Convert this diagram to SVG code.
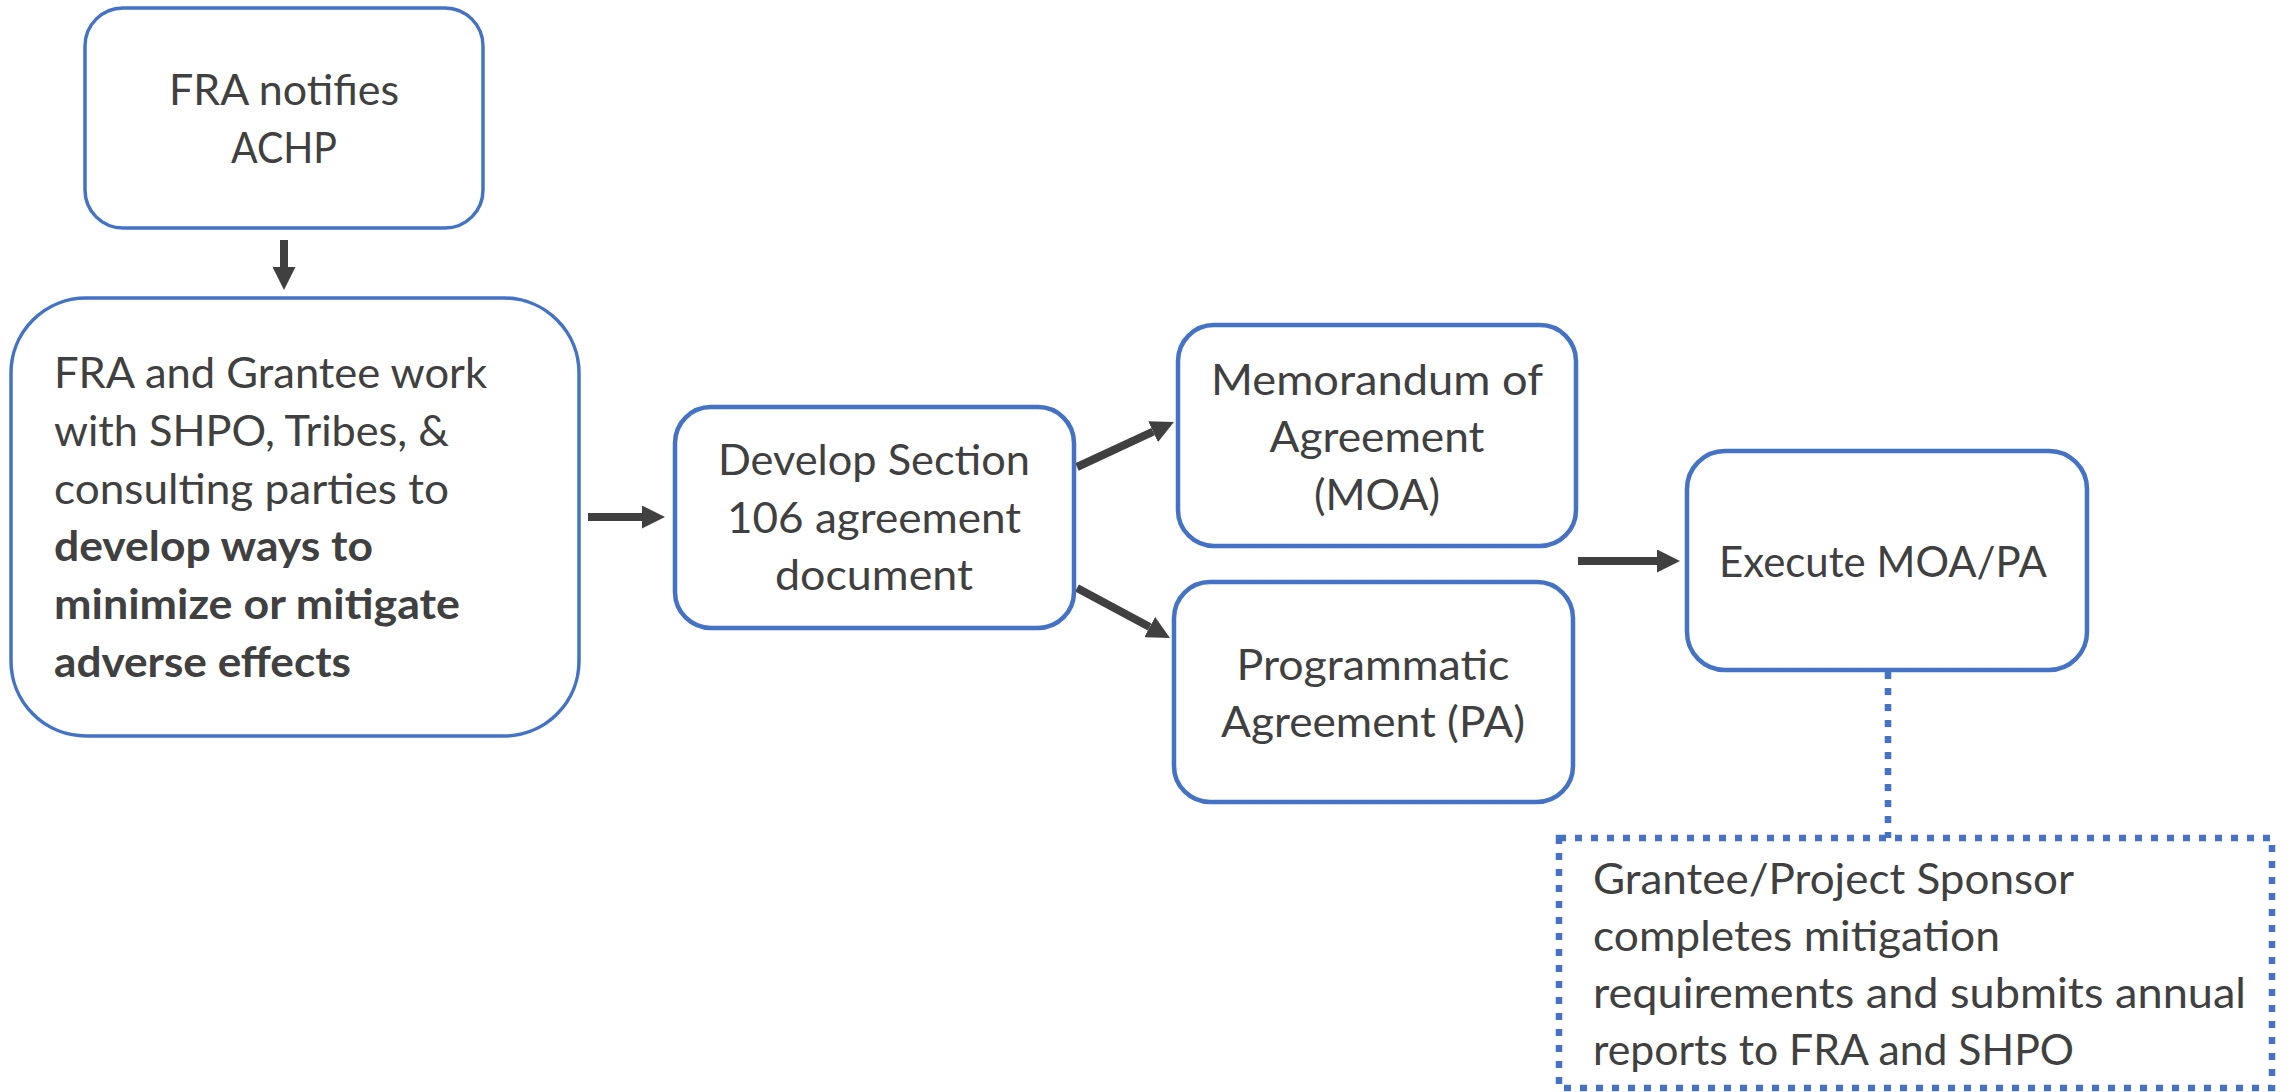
<svg xmlns="http://www.w3.org/2000/svg" width="2290" height="1092" viewBox="0 0 2290 1092">
<style>
.box{fill:#ffffff;stroke:#4472C4;stroke-width:4.5}
.thin{stroke-width:3.5}
.dotted{fill:#ffffff;stroke:#4472C4;stroke-width:6.5;stroke-dasharray:7 9}
.t{font-family:Lato,"Open Sans","Liberation Sans",sans-serif;font-size:42px;fill:#404040}
.c{text-anchor:middle}
.b{font-weight:bold}
.arr{stroke:#404040;stroke-width:8;fill:none;marker-end:url(#ah)}
.dl{stroke:#4472C4;stroke-width:6.5;stroke-dasharray:7 9;fill:none}
</style>
<defs>
<marker id="ah" viewBox="0 0 23 23" refX="0" refY="11.5" markerWidth="23" markerHeight="23" markerUnits="userSpaceOnUse" orient="auto">
<path d="M0,0 L23,11.5 L0,23 z" fill="#404040"/>
</marker>
</defs>
<rect width="2290" height="1092" fill="#ffffff"/>
<g id="connectors">
<line class="arr" x1="284" y1="240" x2="284" y2="267"/>
<line class="arr" x1="588" y1="517" x2="642" y2="517"/>
<line class="arr" x1="1077" y1="467" x2="1153.1" y2="431.7"/>
<line class="arr" x1="1077" y1="588" x2="1149.7" y2="627.1"/>
<line class="arr" x1="1578" y1="561" x2="1657" y2="561"/>
<line class="dl" x1="1888" y1="672" x2="1888" y2="838"/>
</g>
<g id="node-notify">
<rect class="box thin" x="85" y="8" width="398" height="220" rx="38" ry="38"/>
<text class="t c" x="284" y="105" textLength="230" lengthAdjust="spacingAndGlyphs">FRA notifies</text>
<text class="t c" x="284" y="163" textLength="106" lengthAdjust="spacingAndGlyphs">ACHP</text>
</g>
<g id="node-work">
<rect class="box thin" x="11" y="298" width="568" height="438" rx="75" ry="75"/>
<text class="t" x="54" y="388" textLength="433" lengthAdjust="spacingAndGlyphs">FRA and Grantee work</text>
<text class="t" x="54" y="446" textLength="395" lengthAdjust="spacingAndGlyphs">with SHPO, Tribes, &amp;</text>
<text class="t" x="54" y="504" textLength="395" lengthAdjust="spacingAndGlyphs">consulting parties to</text>
<text class="t b" x="54" y="561" textLength="319" lengthAdjust="spacingAndGlyphs">develop ways to</text>
<text class="t b" x="54" y="619" textLength="406" lengthAdjust="spacingAndGlyphs">minimize or mitigate</text>
<text class="t b" x="54" y="677" textLength="297" lengthAdjust="spacingAndGlyphs">adverse effects</text>
</g>
<g id="node-develop">
<rect class="box" x="675" y="407" width="399" height="221" rx="36" ry="36"/>
<text class="t c" x="874" y="475" textLength="312" lengthAdjust="spacingAndGlyphs">Develop Section</text>
<text class="t c" x="874" y="533" textLength="294" lengthAdjust="spacingAndGlyphs">106 agreement</text>
<text class="t c" x="874" y="590" textLength="198" lengthAdjust="spacingAndGlyphs">document</text>
</g>
<g id="node-moa">
<rect class="box" x="1178" y="325" width="398" height="221" rx="36" ry="36"/>
<text class="t c" x="1377" y="395" textLength="332" lengthAdjust="spacingAndGlyphs">Memorandum of</text>
<text class="t c" x="1377" y="452" textLength="215" lengthAdjust="spacingAndGlyphs">Agreement</text>
<text class="t c" x="1377" y="510" textLength="126" lengthAdjust="spacingAndGlyphs">(MOA)</text>
</g>
<g id="node-pa">
<rect class="box" x="1174" y="582" width="399" height="220" rx="36" ry="36"/>
<text class="t c" x="1373" y="680" textLength="273" lengthAdjust="spacingAndGlyphs">Programmatic</text>
<text class="t c" x="1373" y="737" textLength="304" lengthAdjust="spacingAndGlyphs">Agreement (PA)</text>
</g>
<g id="node-execute">
<rect class="box" x="1687" y="451" width="400" height="219" rx="38" ry="38"/>
<text class="t c" x="1883" y="577" textLength="328" lengthAdjust="spacingAndGlyphs">Execute MOA/PA</text>
</g>
<g id="node-grantee">
<rect class="dotted" x="1559" y="838" width="713" height="250"/>
<text class="t" x="1593" y="894" textLength="481" lengthAdjust="spacingAndGlyphs">Grantee/Project Sponsor</text>
<text class="t" x="1593" y="951" textLength="407" lengthAdjust="spacingAndGlyphs">completes mitigation</text>
<text class="t" x="1593" y="1008" textLength="653" lengthAdjust="spacingAndGlyphs">requirements and submits annual</text>
<text class="t" x="1593" y="1065" textLength="481" lengthAdjust="spacingAndGlyphs">reports to FRA and SHPO</text>
</g>
</svg>
